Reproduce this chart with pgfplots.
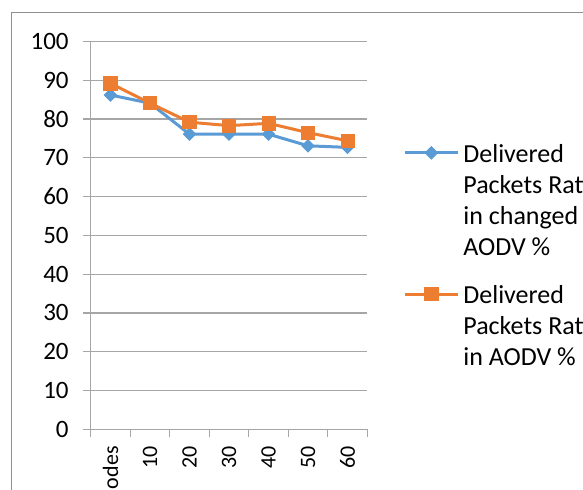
\documentclass[border=0pt]{standalone}
\usepackage{pgfplots}
\pgfplotsset{compat=1.18}
\usepackage{fontspec}
\setmainfont{Carlito}
\definecolor{blueline}{HTML}{5B9BD5}
\definecolor{orangeline}{HTML}{ED7D31}
\definecolor{gridgray}{HTML}{A6A6A6}
\definecolor{framegray}{HTML}{8F8F8F}

\begin{document}
\begin{tikzpicture}
% chart area border (only its left and top edges fall inside the page)
\draw[framegray, line width=0.6pt] (-39.5pt,-80pt) -- (-39.5pt,208.4pt) -- (320pt,208.4pt);
\begin{axis}[
  at={(0pt,0pt)}, anchor=south west,
  scale only axis, width=138.3pt, height=193.9pt,
  font=\fontsize{12.5}{15.5}\selectfont,
  /pgf/number format/assume math mode=true,
  xmin=-0.5, xmax=6.5, ymin=0, ymax=100,
  axis x line*=bottom, axis y line*=left,
  axis line style={gridgray, line width=0.6pt, -},
  ytick={0,10,...,100},
  ymajorgrids, grid style={gridgray, line width=0.6pt},
  tick style={gridgray, line width=0.6pt},
  tick align=outside,
  major tick length=4pt,
  yticklabel style={xshift=-3.5pt},
  xtick={-0.5,0.5,...,6.5},
  xticklabels={},
  extra x ticks={0,1,2,3,4,5,6},
  extra x tick labels={Nodes,10,20,30,40,50,60},
  extra x tick style={major tick length=0pt, grid=none,
    tick label style={yshift=-5pt, rotate=90, anchor=east,
      font=\fontsize{11}{13}\selectfont}},
  legend style={draw=none, fill=none, at={(1.129,0.756)}, anchor=north west,
    row sep=54.3pt, inner sep=0pt, font=\fontsize{13}{15.5}\selectfont},
  legend cell align=left,
  legend image code/.code={\draw[mark repeat=2,mark phase=2]
    plot coordinates {(0pt,0pt)(13.25pt,0pt)(26.5pt,0pt)};},
]
\addplot[blueline, line width=1.5pt, mark=square*, mark size=2.2pt,
  mark options={rotate=45, fill=blueline, draw=blueline, line width=0.4pt}]
  coordinates {(0,86.2) (1,84.1) (2,76.1) (3,76.1) (4,76.1) (5,73.1) (6,72.7)};
\addlegendentry{\begin{tabular}[t]{@{}l@{}}Delivered\\Packets Ratio\\in changed\\AODV \%\end{tabular}}
\addplot[orangeline, line width=1.5pt, mark=square*, mark size=3.3pt,
  mark options={fill=orangeline, draw=orangeline, line width=0.4pt}]
  coordinates {(0,89.2) (1,84.1) (2,79.2) (3,78.3) (4,78.9) (5,76.5) (6,74.4)};
\addlegendentry{\begin{tabular}[t]{@{}l@{}}Delivered\\Packets Ratio\\in AODV \%\end{tabular}}
\end{axis}
\pgfresetboundingbox
\path[use as bounding box] (-45.35pt,-29.85pt) rectangle (246.15pt,214.65pt);
\end{tikzpicture}
\end{document}
